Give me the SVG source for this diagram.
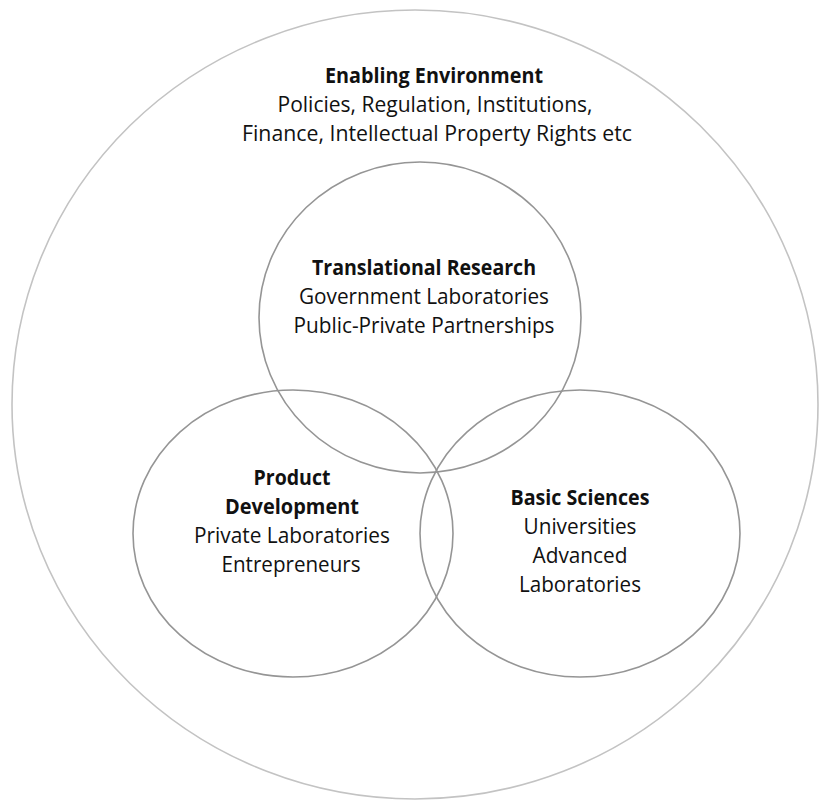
<svg xmlns="http://www.w3.org/2000/svg" width="819" height="800" viewBox="0 0 819 800">
  <style>
    .outer { fill: none; stroke: #c3c3c3; stroke-width: 1.6; }
    .inner { fill: none; stroke: #959595; stroke-width: 1.6; }
    text { font-family: "Open Sans", "Liberation Sans", sans-serif; font-size: 21px; fill: #111; text-anchor: middle; }
    .b { font-weight: bold; }
  </style>
  <rect width="819" height="800" fill="#ffffff"/>
  <g id="enabling-environment">
    <ellipse class="outer" cx="415" cy="404.5" rx="403" ry="394.5"/>
    <text class="b" x="434" y="83" textLength="218" lengthAdjust="spacingAndGlyphs">Enabling Environment</text>
    <text x="435" y="112" textLength="315" lengthAdjust="spacingAndGlyphs">Policies, Regulation, Institutions,</text>
    <text x="437" y="141" textLength="390" lengthAdjust="spacingAndGlyphs">Finance, Intellectual Property Rights etc</text>
  </g>
  <g id="translational-research">
    <ellipse class="inner" cx="420" cy="317.5" rx="161" ry="155.5"/>
    <text class="b" x="424" y="275" textLength="224" lengthAdjust="spacingAndGlyphs">Translational Research</text>
    <text x="424" y="304" textLength="250" lengthAdjust="spacingAndGlyphs">Government Laboratories</text>
    <text x="424" y="332.5" textLength="261" lengthAdjust="spacingAndGlyphs">Public-Private Partnerships</text>
  </g>
  <g id="product-development">
    <ellipse class="inner" cx="293" cy="533.5" rx="160" ry="143.5"/>
    <text class="b" x="292" y="485" textLength="77" lengthAdjust="spacingAndGlyphs">Product</text>
    <text class="b" x="292" y="513.5" textLength="134" lengthAdjust="spacingAndGlyphs">Development</text>
    <text x="292" y="542.5" textLength="196" lengthAdjust="spacingAndGlyphs">Private Laboratories</text>
    <text x="291" y="571.5" textLength="139" lengthAdjust="spacingAndGlyphs">Entrepreneurs</text>
  </g>
  <g id="basic-sciences">
    <ellipse class="inner" cx="580" cy="533.5" rx="160" ry="143.5"/>
    <text class="b" x="580" y="505" textLength="139" lengthAdjust="spacingAndGlyphs">Basic Sciences</text>
    <text x="580" y="534" textLength="113" lengthAdjust="spacingAndGlyphs">Universities</text>
    <text x="580" y="563" textLength="95" lengthAdjust="spacingAndGlyphs">Advanced</text>
    <text x="580" y="592" textLength="122" lengthAdjust="spacingAndGlyphs">Laboratories</text>
  </g>
  <g id="connectors"></g>
</svg>
